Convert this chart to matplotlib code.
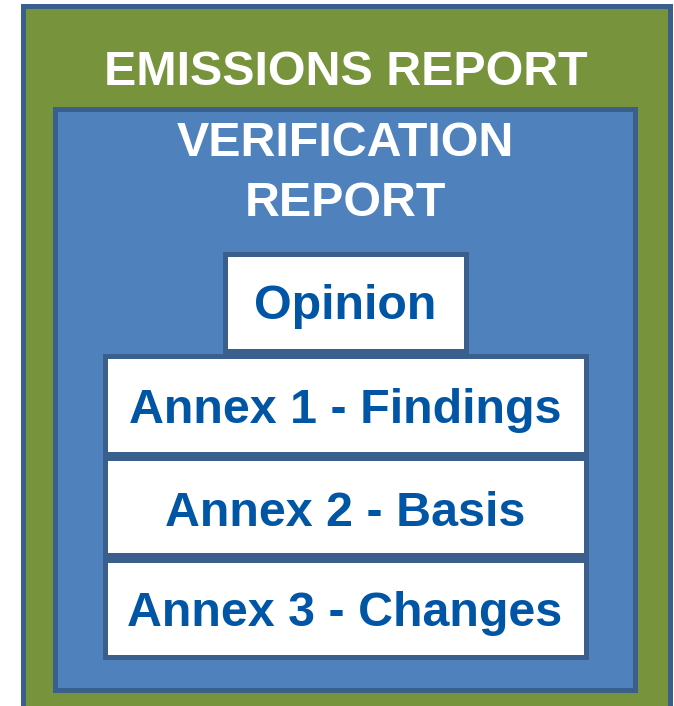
import matplotlib
matplotlib.use("Agg")
import matplotlib.pyplot as plt
from matplotlib.patches import Rectangle

plt.rcParams['font.family'] = ['Liberation Sans', 'DejaVu Sans']

# Content
outer_title = "EMISSIONS REPORT"
inner_title_lines = ["VERIFICATION", "REPORT"]
opinion_label = "Opinion"
annex_labels = ["Annex 1 - Findings", "Annex 2 - Basis", "Annex 3 - Changes"]

# Colours
green = "#77933C"
blue = "#4F81BD"
edge = "#3A5F8C"
text_blue = "#0055A5"

W, H = 674, 706
fig = plt.figure(figsize=(W / 100, H / 100), dpi=100)
ax = fig.add_axes([0, 0, 1, 1])
ax.set_xlim(0, W)
ax.set_ylim(H, 0)
ax.axis("off")

lw = 5 * 72 / 100
fs = 34.8


def box(x0, y0, x1, y1, fc):
    ax.add_patch(Rectangle((x0, y0), x1 - x0, y1 - y0, facecolor=fc,
                           edgecolor=edge, linewidth=lw, joinstyle="miter"))


def label(x, y, s, color):
    ax.text(x, y, s, ha="center", va="baseline", color=color,
            fontsize=fs, fontweight="bold")


# Outer green box
box(22.5, 5.5, 669.5, 712, green)
label(346, 85, outer_title, "white")

# Inner blue box
box(54.5, 108.5, 634.5, 689.5, blue)
label(345, 156.5, inner_title_lines[0], "white")
label(345, 216, inner_title_lines[1], "white")

# Opinion box
box(224.5, 254, 465.5, 350.5, "white")
label(345, 319, opinion_label, text_blue)

# Annex boxes
annex_y = [(355.5, 454), (458, 555), (560, 657)]
annex_base = [423.3, 525.5, 626.5]
for s, (y0, y1), yb in zip(annex_labels, annex_y, annex_base):
    box(104.5, y0, 585.5, y1, "white")
    label(345, yb, s, text_blue)

fig.savefig("out.png", dpi=100)
